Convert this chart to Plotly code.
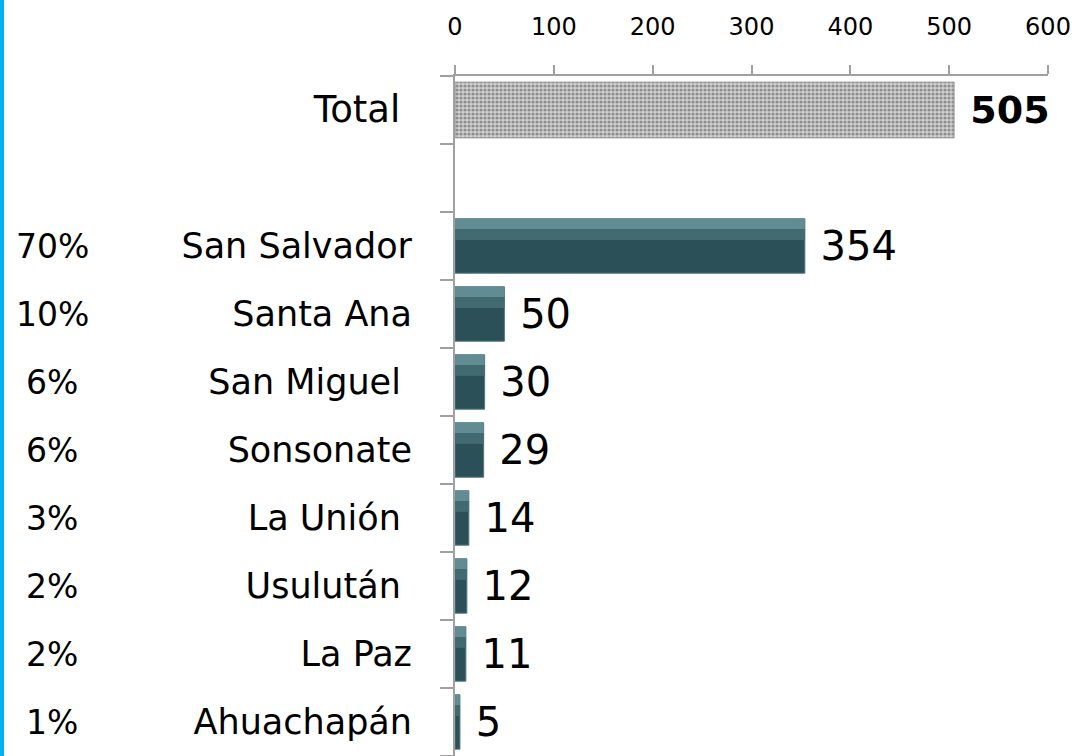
import plotly.graph_objects as go

# ---- data ----
total_label = ["Total\u00a0"]
total_value = [505]
regions = ["San Salvador", "Santa Ana", "San Miguel\u00a0", "Sonsonate",
           "La Unión\u00a0", "Usulután\u00a0", "La Paz", "Ahuachapán"]
values = [354, 50, 30, 29, 14, 12, 11, 5]
percents = ["70%", "10%", "6%", "6%", "3%", "2%", "2%", "1%"]
gap_label = ["\u00a0"]
x_ticks = [0, 100, 200, 300, 400, 500, 600]

categories = total_label + gap_label + regions

W, H = 1078, 756
ML, MR, MT, MB = 455, 30, 76, 0
PW = W - ML - MR
PH = H - MT - MB

FONT = "DejaVu Sans"

fig = go.Figure()

# Total bar (textured grey)
fig.add_trace(go.Bar(
    y=total_label, x=total_value, orientation="h", width=0.82,
    marker=dict(color="#bdbdbd",
                line=dict(color="#9a9a9a", width=1),
                pattern=dict(shape=".", fgcolor="#4a4a4a", bgcolor="#d0d0d0",
                             size=4, solidity=0.5)),
    text=["\u00a0" + str(v) for v in total_value], textposition="outside",
    textfont=dict(family=FONT, size=38, color="black", weight="bold"),
    constraintext="none", cliponaxis=False, showlegend=False,
))

# Region bars (dark teal base)
fig.add_trace(go.Bar(
    y=regions, x=values, orientation="h", width=0.8,
    marker=dict(color="#2b5057", line=dict(color="#4f7a81", width=1)),
    text=["\u00a0" + str(v) for v in values], textposition="outside",
    textfont=dict(family=FONT, size=40, color="black"),
    constraintext="none", cliponaxis=False, showlegend=False,
))

# Bevel highlight on top part of region bars (two tones)
fig.add_trace(go.Bar(
    y=regions, x=values, orientation="h", width=0.16, offset=-0.25,
    marker=dict(color="#416a71", line=dict(width=0)),
    hoverinfo="skip", showlegend=False,
))
fig.add_trace(go.Bar(
    y=regions, x=values, orientation="h", width=0.15, offset=-0.4,
    marker=dict(color="#628c93", line=dict(width=0)),
    hoverinfo="skip", showlegend=False,
))

# percentage annotations
px_center = 52
for r, p in zip(regions, percents):
    fig.add_annotation(
        x=(px_center - ML) / PW, xref="paper", xanchor="center",
        y=r, yref="y", text=p, showarrow=False,
        font=dict(family=FONT, size=33, color="black"),
    )

# left blue border line
fig.add_shape(type="rect", xref="paper", yref="paper",
              x0=-ML / PW, x1=(-ML + 4) / PW,
              y0=-MB / PH, y1=1 + MT / PH,
              fillcolor="#00b0f0", line=dict(width=0), layer="above")

tick_text = ['<span style="font-size:37px">' + total_label[0] + '</span>'] + \
    categories[1:]

fig.update_layout(
    width=W, height=H,
    margin=dict(l=ML, r=MR, t=MT, b=MB),
    paper_bgcolor="white", plot_bgcolor="white",
    barmode="overlay",
    font=dict(family=FONT, color="black"),
    xaxis=dict(side="top", range=[0, 600], tickvals=x_ticks,
               ticktext=[str(t) for t in x_ticks],
               ticks="outside", ticklen=9, tickwidth=2, tickcolor="#a0a0a0",
               showline=True, linecolor="#a0a0a0", linewidth=2,
               showgrid=False, zeroline=False,
               tickfont=dict(family=FONT, size=24, color="black"),
               ticklabelstandoff=20),
    yaxis=dict(type="category", categoryorder="array", categoryarray=categories,
               tickvals=categories, ticktext=tick_text,
               autorange="reversed",
               ticks="outside", ticklen=13, tickwidth=2, tickcolor="#a0a0a0",
               tickson="boundaries",
               showline=True, linecolor="#a0a0a0", linewidth=2,
               showgrid=False, zeroline=False,
               tickfont=dict(family=FONT, size=35, color="black"),
               ticklabelstandoff=34),
)

fig.write_html("out.html", config={"displayModeBar": False},
               post_script="document.body.style.margin='0';document.body.style.overflow='hidden';")
